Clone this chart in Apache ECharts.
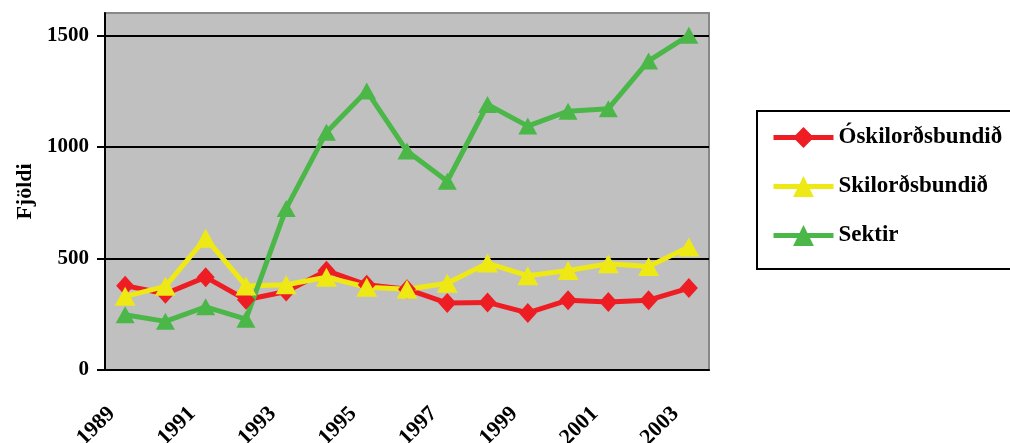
<!DOCTYPE html>
<html>
<head>
<meta charset="utf-8">
<script src="https://cdn.jsdelivr.net/npm/echarts@6/dist/echarts.min.js"></script>
<style>
  html, body { margin: 0; padding: 0; background: #fff; }
  #chart { width: 1010px; height: 443px; }
</style>
</head>
<body>
<div id="chart"></div>
<script>
// ár
const years = ["1989", "1990", "1991", "1992", "1993", "1994", "1995", "1996",
  "1997", "1998", "1999", "2000", "2001", "2002", "2003"];

// fjöldi dóma eftir tegund
const oskilordsbundid = [378, 342, 416, 315, 352, 445, 382, 362, 300, 303, 256, 313, 305, 313, 367];
const skilordsbundid = [330, 375, 591, 377, 382, 416, 371, 362, 389, 479, 422, 446, 476, 464, 551];
const sektir = [248, 218, 283, 228, 724, 1066, 1250, 981, 846, 1190, 1093, 1160, 1171, 1385, 1500];

const yTicks = [0, 500, 1000, 1500];

const font = "'Liberation Serif', 'Times New Roman', serif";

const chart = echarts.init(document.getElementById("chart"));

const makeSeries = (name, data, color, symbol, size) => ({
  name: name,
  type: "line",
  data: data,
  symbol: symbol,
  symbolSize: size,
  showAllSymbol: true,
  lineStyle: { color: color, width: 5 },
  itemStyle: { color: color },
  emphasis: { disabled: true },
});

const option = {
  animation: false,
  textStyle: { fontFamily: font },
  grid: {
    left: 105,
    right: 301,
    top: 13,
    bottom: 73,
    containLabel: false,
    outerBoundsMode: "none",
    show: true,
    backgroundColor: "#C0C0C0",
    borderColor: "#888888",
    borderWidth: 2,
  },
  legend: {
    orient: "vertical",
    left: 757,
    top: 111,
    padding: [15, 30, 22, 14],
    itemWidth: 60,
    itemHeight: 26,
    itemGap: 26,
    borderColor: "#000",
    borderWidth: 2,
    backgroundColor: "#fff",
    lineStyle: { width: 5 },
    textStyle: {
      fontFamily: font,
      fontWeight: "bold",
      fontSize: 23,
      color: "#000",
    },
    data: ["Óskilorðsbundið", "Skilorðsbundið", "Sektir"],
  },
  xAxis: {
    type: "category",
    data: years,
    boundaryGap: true,
    axisLine: { lineStyle: { color: "#000", width: 2 } },
    axisTick: { interval: 0, length: 8, lineStyle: { color: "#000", width: 2 } },
    axisLabel: {
      interval: 1,
      rotate: 45,
      margin: 27,
      padding: [0, 19, 0, 0],
      fontFamily: font,
      fontWeight: "bold",
      fontSize: 22,
      color: "#000",
    },
    splitLine: { show: false },
  },
  yAxis: {
    type: "value",
    min: 0,
    max: 1600,
    interval: 500,
    name: "Fjöldi",
    nameLocation: "middle",
    nameGap: 67,
    nameTextStyle: {
      fontFamily: font,
      fontWeight: "bold",
      fontSize: 22,
      color: "#000",
    },
    axisLine: { show: true, lineStyle: { color: "#000", width: 2 } },
    axisTick: {
      show: true,
      length: 8,
      customValues: yTicks,
      lineStyle: { color: "#000", width: 2 },
    },
    axisLabel: {
      customValues: yTicks,
      formatter: (v) => String(v),
      margin: 16,
      fontFamily: font,
      fontWeight: "bold",
      fontSize: 21,
      color: "#000",
    },
    splitLine: {
      show: true,
      lineStyle: { color: ["#000", "#000", "#000", "#000", "#888888"], width: 2 },
    },
  },
  series: [
    makeSeries("Óskilorðsbundið", oskilordsbundid, "#EE1D24", "diamond", [18, 20]),
    makeSeries("Skilorðsbundið", skilordsbundid, "#EEE815", "triangle", [21, 19]),
    makeSeries("Sektir", sektir, "#4BB748", "triangle", [19, 17]),
  ],
};

chart.setOption(option);
</script>
</body>
</html>
